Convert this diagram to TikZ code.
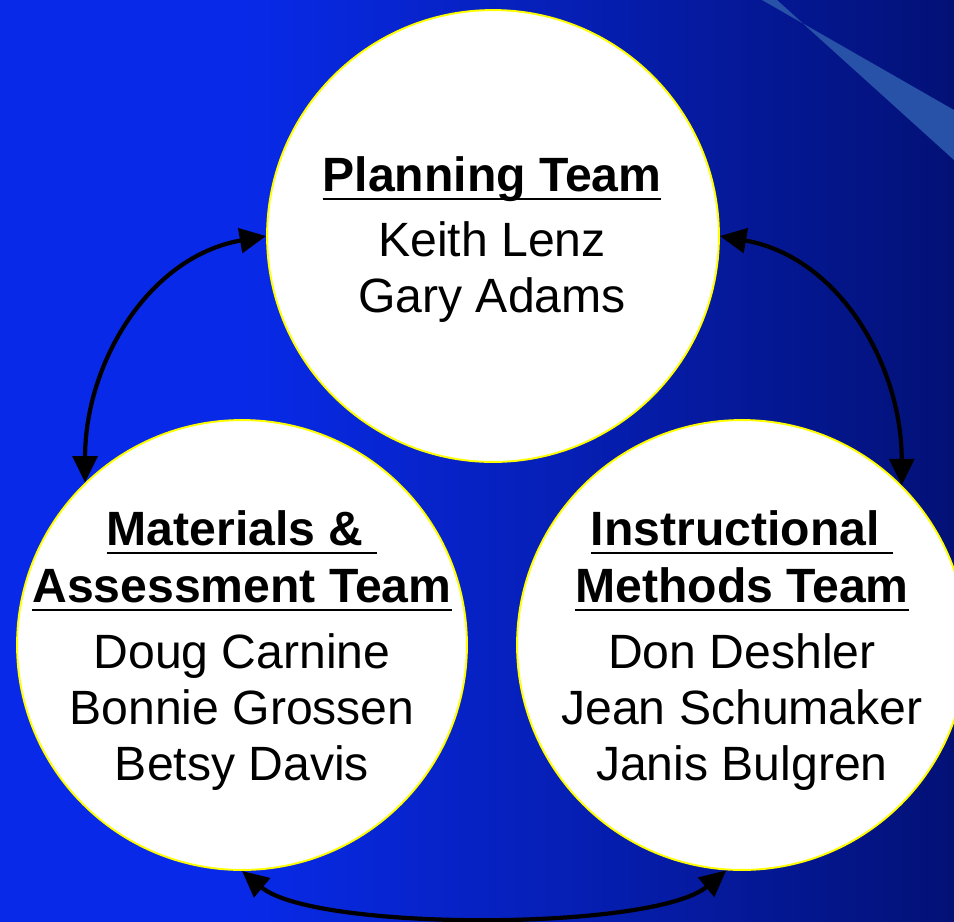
\documentclass[tikz,border=0pt]{standalone}
\usepackage{fontspec}
\setmainfont{Liberation Sans}
\usetikzlibrary{arrows.meta}
\definecolor{bgA}{RGB}{8,42,232}
\definecolor{bgB}{RGB}{3,17,118}
\definecolor{streak}{RGB}{40,82,168}
\pgfdeclarehorizontalshading{bgshade}{100bp}{color(0bp)=(bgA); color(25bp)=(bgA); color(38bp)=(bgA); color(75bp)=(bgB); color(100bp)=(bgB)}
\newcommand\ulin[1]{\setbox0\hbox{#1}\rlap{\rule[-5.2pt]{\wd0}{1.4pt}}\box0}
\tikzset{
  team/.style={circle, fill=white, draw={rgb,255:red,255;green,255;blue,0}, line width=1.1pt, inner sep=0pt},
  txt/.style={anchor=base, inner sep=0pt, font=\fontsize{27.4pt}{32pt}\selectfont},
  ttl/.style={txt, font=\fontsize{27.4pt}{32pt}\selectfont\bfseries},
  conn/.style={line width=2.4pt, {Triangle[length=15pt,width=14pt]}-{Triangle[length=15pt,width=14pt]}}
}
\begin{document}
\begin{tikzpicture}[x=0.02cm, y=-0.02cm]
\clip (0,0) rectangle (954,921);
\shade[shading=bgshade] (0,0) rectangle (954,921);
\fill[streak] (762,0) -- (777,0) -- (954,160) -- (954,110) -- cycle;

\node[team, minimum size=9.04cm] (tc) at (493,236) {};
\node[team, minimum size=9cm] (bl) at (242,645) {};
\node[team, minimum size=9cm] (br) at (742,645) {};

\node[ttl] (t1) at (492,191) {\ulin{Planning Team}};
\node[txt] (t2) at (492,256) {Keith Lenz};
\node[txt] (t3) at (492,312) {Gary Adams};

\node[ttl] (l1) at (242,545) {\ulin{Materials \&\ }};
\node[ttl] (l2) at (242,602) {\ulin{Assessment Team}};
\node[txt] (l3) at (242,668) {Doug Carnine};
\node[txt] (l4) at (242,724) {Bonnie Grossen};
\node[txt] (l5) at (242,780) {Betsy Davis};

\node[ttl] (r1) at (742,545) {\ulin{Instructional\ }};
\node[ttl] (r2) at (742,602) {\ulin{Methods Team}};
\node[txt] (r3) at (742,668) {Don Deshler};
\node[txt] (r4) at (742,724) {Jean Schumaker};
\node[txt] (r5) at (742,780) {Janis Bulgren};

\draw[conn] (bl.134) to[out=90, in=190] (tc.180);
\draw[conn] (tc.0) to[out=-10, in=90] (br.45);
\draw[conn] (bl.270) to[out=-40, in=-140, looseness=0.5] (br.266);
\end{tikzpicture}
\end{document}
